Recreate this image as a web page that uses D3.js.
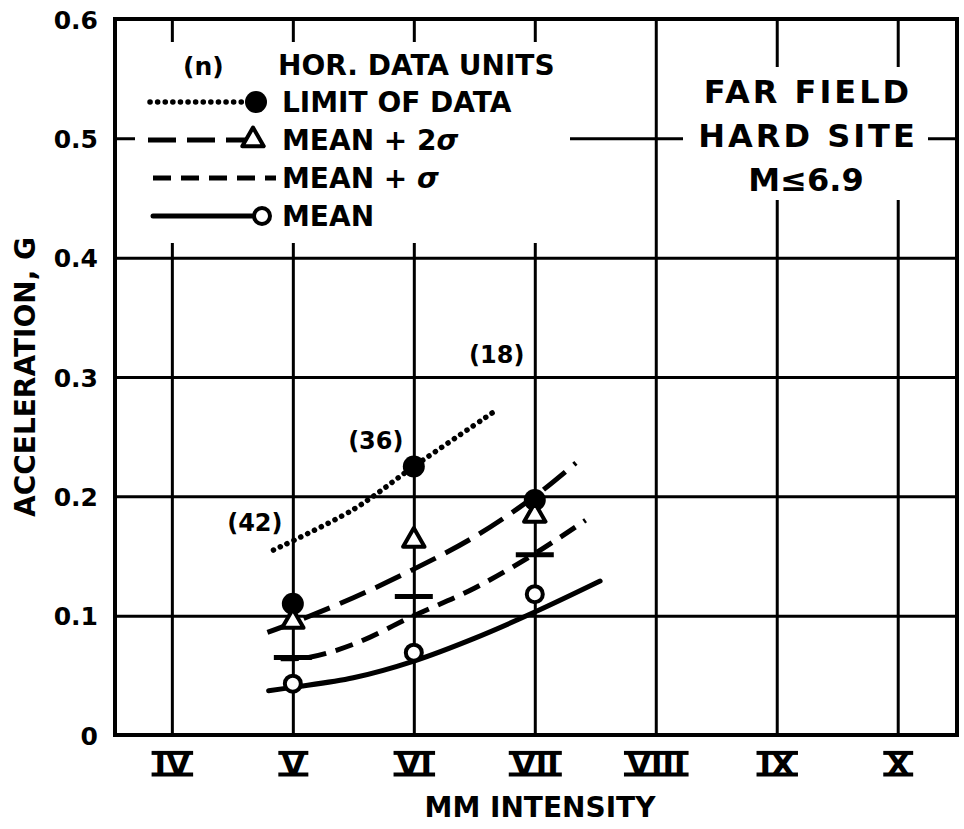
<!DOCTYPE html>
<html>
<head>
<meta charset="utf-8">
<script src="https://cdn.jsdelivr.net/npm/d3@7"></script>
<style>
  body { margin: 0; background: #fff; }
  svg text { font-family: "DejaVu Sans", sans-serif; font-weight: bold; fill: #000; }
</style>
</head>
<body>
<div id="chart"></div>
<script>
// axes
const intensities = [4, 5, 6, 7, 8, 9, 10]
const romanLabels = ["IV", "V", "VI", "VII", "VIII", "IX", "X"]
const gTicks = [0, 0.1, 0.2, 0.3, 0.4, 0.5, 0.6]

// plotted points at V, VI, VII
const dataIntensity = [5, 6, 7]
const limitPoints = [0.110, 0.225, 0.197]
const mean2sPoints = [0.095, 0.163, 0.184]
const mean1sPoints = [0.065, 0.116, 0.151]
const meanPoints = [0.043, 0.069, 0.118]
const dataCounts = [42, 36, 18]
const countLabelG = [0.171, 0.240, 0.312]

// smoothed curves
const limitCurveX = [4.84, 5.5, 6, 6.65]
const limitCurveG = [0.155, 0.189, 0.225, 0.270]
const mean2sCurveX = [4.79, 5, 5.5, 6, 6.5, 7, 7.34]
const mean2sCurveG = [0.086, 0.094, 0.115, 0.139, 0.166, 0.200, 0.228]
const mean1sCurveX = [4.9, 5.13, 5.5, 6, 6.5, 7, 7.42]
const mean1sCurveG = [0.064, 0.065, 0.076, 0.100, 0.123, 0.152, 0.180]
const meanCurveX = [4.8, 5, 5.5, 6, 6.5, 7, 7.54]
const meanCurveG = [0.037, 0.040, 0.048, 0.062, 0.081, 0.103, 0.129]

const W = 964, H = 829
const MARGIN = { TOP: 19, BOTTOM: 94, LEFT: 115, RIGHT: 7 }
const plotW = W - MARGIN.LEFT - MARGIN.RIGHT
const plotH = H - MARGIN.TOP - MARGIN.BOTTOM

const svg = d3.select("#chart").append("svg")
  .attr("width", W)
  .attr("height", H)

const x = d3.scaleLinear().domain([3.53, 10.49]).range([MARGIN.LEFT, W - MARGIN.RIGHT])
const y = d3.scaleLinear().domain([0, 0.6]).range([H - MARGIN.BOTTOM, MARGIN.TOP])

// horizontal grid + y labels
const yAxis = d3.axisLeft(y)
  .tickValues(gTicks)
  .tickSize(-plotW)
  .tickPadding(17)
  .tickFormat(d => d === 0 ? "0" : d3.format(".1f")(d))
const gy = svg.append("g")
  .attr("transform", `translate(${MARGIN.LEFT},0)`)
  .call(yAxis)
gy.select(".domain").remove()
gy.selectAll(".tick line").attr("stroke", "#000").attr("stroke-width", 3)
gy.selectAll(".tick text").style("font-size", "25px").attr("dy", "0.36em")

// vertical grid + roman numerals (barred top and bottom)
const xAxis = d3.axisBottom(x)
  .tickValues(intensities)
  .tickSize(plotH)
  .tickFormat((d, i) => romanLabels[i])
const gx = svg.append("g")
  .attr("transform", `translate(0,${MARGIN.TOP})`)
  .call(xAxis)
gx.select(".domain").remove()
gx.selectAll(".tick line").attr("stroke", "#000").attr("stroke-width", 3)
const numBase = plotH + 40
const numSize = 31
gx.selectAll(".tick text")
  .attr("y", numBase)
  .attr("dy", 0)
  .style("font-size", numSize + "px")
gx.selectAll(".tick").each(function() {
  const t = d3.select(this).select("text")
  const w = t.node().getComputedTextLength() + 6
  const capH = numSize * 0.729
  d3.select(this).append("rect")
    .attr("x", -w / 2).attr("y", numBase - capH - 1.5)
    .attr("width", w).attr("height", 4)
    .attr("fill", "#000")
  d3.select(this).append("rect")
    .attr("x", -w / 2).attr("y", numBase - 2.5)
    .attr("width", w).attr("height", 4)
    .attr("fill", "#000")
})

// white panels behind legend and site text
svg.append("rect").attr("x", 135).attr("y", 42).attr("width", 435).attr("height", 201).attr("fill", "#fff")
svg.append("rect").attr("x", 683).attr("y", 67).attr("width", 245).attr("height", 133).attr("fill", "#fff")

// frame
svg.append("rect")
  .attr("x", MARGIN.LEFT).attr("y", MARGIN.TOP)
  .attr("width", plotW).attr("height", plotH)
  .attr("fill", "none").attr("stroke", "#000").attr("stroke-width", 4)

// axis titles
svg.append("text")
  .attr("transform", `translate(35,${y(0.3)}) rotate(-90)`)
  .attr("text-anchor", "middle")
  .style("font-size", "28px")
  .text("ACCELERATION, G")
svg.append("text")
  .attr("x", 540).attr("y", 817)
  .attr("text-anchor", "middle")
  .style("font-size", "28px")
  .text("MM INTENSITY")

// curves
const STYLES = {
  limit: { width: 5.5, dash: "0.1 7.5", cap: "round" },
  mean2s: { width: 5, dash: "28 11", cap: "butt" },
  mean1s: { width: 5, dash: "18 10", cap: "butt" },
  mean: { width: 5, dash: null, cap: "round" }
}
const line = d3.line().x(d => x(d[0])).y(d => y(d[1])).curve(d3.curveCatmullRom)
const curves = [
  { key: "limit", xs: limitCurveX, gs: limitCurveG },
  { key: "mean2s", xs: mean2sCurveX, gs: mean2sCurveG },
  { key: "mean1s", xs: mean1sCurveX, gs: mean1sCurveG },
  { key: "mean", xs: meanCurveX, gs: meanCurveG }
]
curves.forEach(c => {
  const s = STYLES[c.key]
  svg.append("path")
    .datum(d3.zip(c.xs, c.gs))
    .attr("d", line)
    .attr("fill", "none")
    .attr("stroke", "#000")
    .attr("stroke-width", s.width)
    .attr("stroke-dasharray", s.dash)
    .attr("stroke-linecap", s.cap)
})

// markers
const tri = d3.symbol(d3.symbolTriangle).size(200)
function drawBar(g, cx, cy) {
  g.append("line").attr("x1", cx - 19).attr("x2", cx + 19).attr("y1", cy).attr("y2", cy)
    .attr("stroke", "#000").attr("stroke-width", 5)
}
function drawTri(g, cx, cy) {
  g.append("path").attr("d", tri).attr("transform", `translate(${cx},${cy})`)
    .attr("fill", "#fff").attr("stroke", "#000").attr("stroke-width", 4).attr("stroke-linejoin", "round")
}
function drawDot(g, cx, cy) {
  g.append("circle").attr("cx", cx).attr("cy", cy).attr("r", 11).attr("fill", "#000")
}
function drawRing(g, cx, cy) {
  g.append("circle").attr("cx", cx).attr("cy", cy).attr("r", 8)
    .attr("fill", "#fff").attr("stroke", "#000").attr("stroke-width", 4)
}
const marks = svg.append("g")
dataIntensity.forEach((iv, i) => {
  const cx = x(iv)
  drawBar(marks, cx, y(mean1sPoints[i]))
  drawDot(marks, cx, y(limitPoints[i]))
  drawTri(marks, cx, y(mean2sPoints[i]))
  drawRing(marks, cx, y(meanPoints[i]))
  svg.append("text")
    .attr("x", cx - 38).attr("y", y(countLabelG[i]))
    .attr("text-anchor", "middle")
    .style("font-size", "24px")
    .text(`(${dataCounts[i]})`)
})

// legend
const legend = svg.append("g")
legend.append("text").attr("x", 183).attr("y", 75).style("font-size", "25px").text("(n)")
legend.append("text").attr("x", 278).attr("y", 75).style("font-size", "28px").text("HOR. DATA UNITS")
const rows = [
  { key: "limit", label: "LIMIT OF DATA", x0: 150, x1: 250, mark: drawDot, mx: 256 },
  { key: "mean2s", label: "MEAN + 2", sig: true, x0: 148, x1: 247, mark: drawTri, mx: 253 },
  { key: "mean1s", label: "MEAN + ", sig: true, x0: 153, x1: 276, mark: null },
  { key: "mean", label: "MEAN", x0: 153, x1: 255, mark: drawRing, mx: 262 }
]
rows.forEach((r, i) => {
  const ly = 102 + i * 38
  const s = STYLES[r.key]
  legend.append("line")
    .attr("x1", r.x0).attr("x2", r.x1).attr("y1", ly).attr("y2", ly)
    .attr("stroke", "#000").attr("stroke-width", s.width)
    .attr("stroke-dasharray", s.dash).attr("stroke-linecap", s.cap)
  if (r.mark) r.mark(legend, r.mx, ly)
  const t = legend.append("text").attr("x", 282).attr("y", ly + 10).style("font-size", "28px").text(r.label)
  if (r.sig) t.append("tspan").style("font-style", "italic").text("σ")
})

// site description
const site = svg.append("g")
const siteLines = ["FAR FIELD", "HARD SITE", "M≤6.9"]
siteLines.forEach((s, i) => {
  site.append("text")
    .attr("x", 806 + (i < 2 ? 2 : 0)).attr("y", 103 + i * 44)
    .attr("text-anchor", "middle")
    .style("font-size", "32px")
    .style("letter-spacing", i < 2 ? "3px" : "0px")
    .text(s)
})
</script>
</body>
</html>
